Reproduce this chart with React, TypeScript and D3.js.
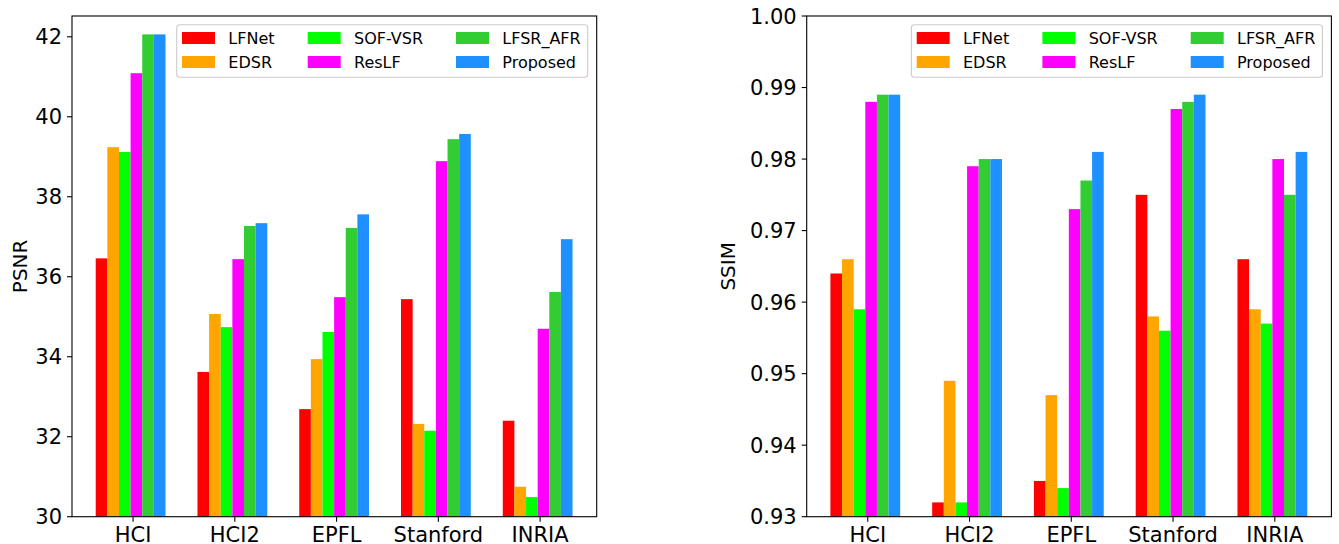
import { scaleLinear, format } from "d3";

const categories = ["HCI", "HCI2", "EPFL", "Stanford", "INRIA"];
const methods = ["LFNet", "EDSR", "SOF-VSR", "ResLF", "LFSR_AFR", "Proposed"];
const colors = ["#ff0000", "#ffa500", "#00ff00", "#ff00ff", "#32cd32", "#1e90ff"];

// PSNR per method, order of categories
const psnrLFNet = [36.46, 33.62, 32.69, 35.44, 32.4];
const psnrEDSR = [39.24, 35.07, 33.94, 32.32, 30.75];
const psnrSOF = [39.12, 34.74, 34.62, 32.15, 30.49];
const psnrResLF = [41.09, 36.44, 35.49, 38.89, 34.7];
const psnrAFR = [42.06, 37.27, 37.22, 39.44, 35.62];
const psnrProposed = [42.06, 37.34, 37.56, 39.57, 36.94];

// SSIM per method
const ssimLFNet = [0.964, 0.932, 0.935, 0.975, 0.966];
const ssimEDSR = [0.966, 0.949, 0.947, 0.958, 0.959];
const ssimSOF = [0.959, 0.932, 0.934, 0.956, 0.957];
const ssimResLF = [0.988, 0.979, 0.973, 0.987, 0.98];
const ssimAFR = [0.989, 0.98, 0.977, 0.988, 0.975];
const ssimProposed = [0.989, 0.98, 0.981, 0.989, 0.981];

const psnrTicks = [30, 32, 34, 36, 38, 40, 42];
const ssimTicks = [0.93, 0.94, 0.95, 0.96, 0.97, 0.98, 0.99, 1.0];

const psnrSeries = [psnrLFNet, psnrEDSR, psnrSOF, psnrResLF, psnrAFR, psnrProposed];
const ssimSeries = [ssimLFNet, ssimEDSR, ssimSOF, ssimResLF, ssimAFR, ssimProposed];

const font = "DejaVu Sans, sans-serif";
const barWidth = 0.8 / 7;
const barStart = -0.367;
const top = 16;
const bottom = 516.7;
const axWidth = 524.7;

// legend column offsets inside the box (px)
const legendCols = [5.3, 131, 279.3];
const legendRows = [13.3, 37.3];

const Panel = ({ left, series, yDomain, ticks, tickFmt, label, labelX }) => {
  const right = left + axWidth;
  const x = scaleLinear().domain([-0.6, 4.556]).range([left, right]);
  const y = scaleLinear().domain(yDomain).range([bottom, top]);
  const legendRight = right - 9;
  const legendLeft = legendRight - 411;
  const legendTop = top + 8.7;

  return (
    <g>
      {series.map((vals, k) =>
        vals.map((v, i) => {
          const x0 = x(i + barStart + k * barWidth);
          const x1 = x(i + barStart + (k + 1) * barWidth);
          return (
            <rect
              key={k + "-" + i}
              x={x0}
              y={y(v)}
              width={x1 - x0}
              height={bottom - y(v)}
              fill={colors[k]}
            />
          );
        })
      )}

      {/* spines */}
      <rect x={left} y={top} width={axWidth} height={bottom - top} fill="none" stroke="#000" strokeWidth={1.1} />

      {ticks.map((t) => (
        <g key={t} transform={`translate(0,${y(t)})`}>
          <line x1={left - 5} x2={left} stroke="#000" strokeWidth={1.1} />
          <text x={left - 10} y={7.6} textAnchor="end" fontSize={21} fontFamily={font} fill="#000">
            {tickFmt(t)}
          </text>
        </g>
      ))}

      {categories.map((c, i) => (
        <g key={c} transform={`translate(${x(i)},0)`}>
          <line y1={bottom} y2={bottom + 5} stroke="#000" strokeWidth={1.1} />
          <text y={542} textAnchor="middle" fontSize={21} fontFamily={font} fill="#000">
            {c}
          </text>
        </g>
      ))}

      <text
        transform={`translate(${labelX},${(top + bottom) / 2}) rotate(-90)`}
        textAnchor="middle"
        dominantBaseline="central"
        fontSize={20}
        fontFamily={font}
        fill="#000"
      >
        {label}
      </text>

      <g transform={`translate(${legendLeft},${legendTop})`}>
        <rect width={411} height={52.6} rx={3} fill="#fff" fillOpacity={0.8} stroke="#cccccc" strokeWidth={1.1} />
        {methods.map((m, k) => {
          const col = Math.floor(k / 2);
          const row = k % 2;
          return (
            <g key={m} transform={`translate(${legendCols[col]},${legendRows[row]})`}>
              <rect y={-6} width={33} height={12} fill={colors[k]} />
              <text x={46.3} y={5.8} fontSize={16} fontFamily={font} fill="#000">
                {m}
              </text>
            </g>
          );
        })}
      </g>
    </g>
  );
};

export default function App() {
  return (
    <svg
      width={1339}
      height={544}
      style={{ position: "absolute", left: 0, top: 0, background: "#fff" }}
    >
      <Panel
        left={72}
        series={psnrSeries}
        yDomain={[30, 42.52]}
        ticks={psnrTicks}
        tickFmt={format("d")}
        label="PSNR"
        labelX={20}
      />
      <Panel
        left={806.7}
        series={ssimSeries}
        yDomain={[0.93, 1.0]}
        ticks={ssimTicks}
        tickFmt={format(".2f")}
        label="SSIM"
        labelX={728}
      />
    </svg>
  );
}
